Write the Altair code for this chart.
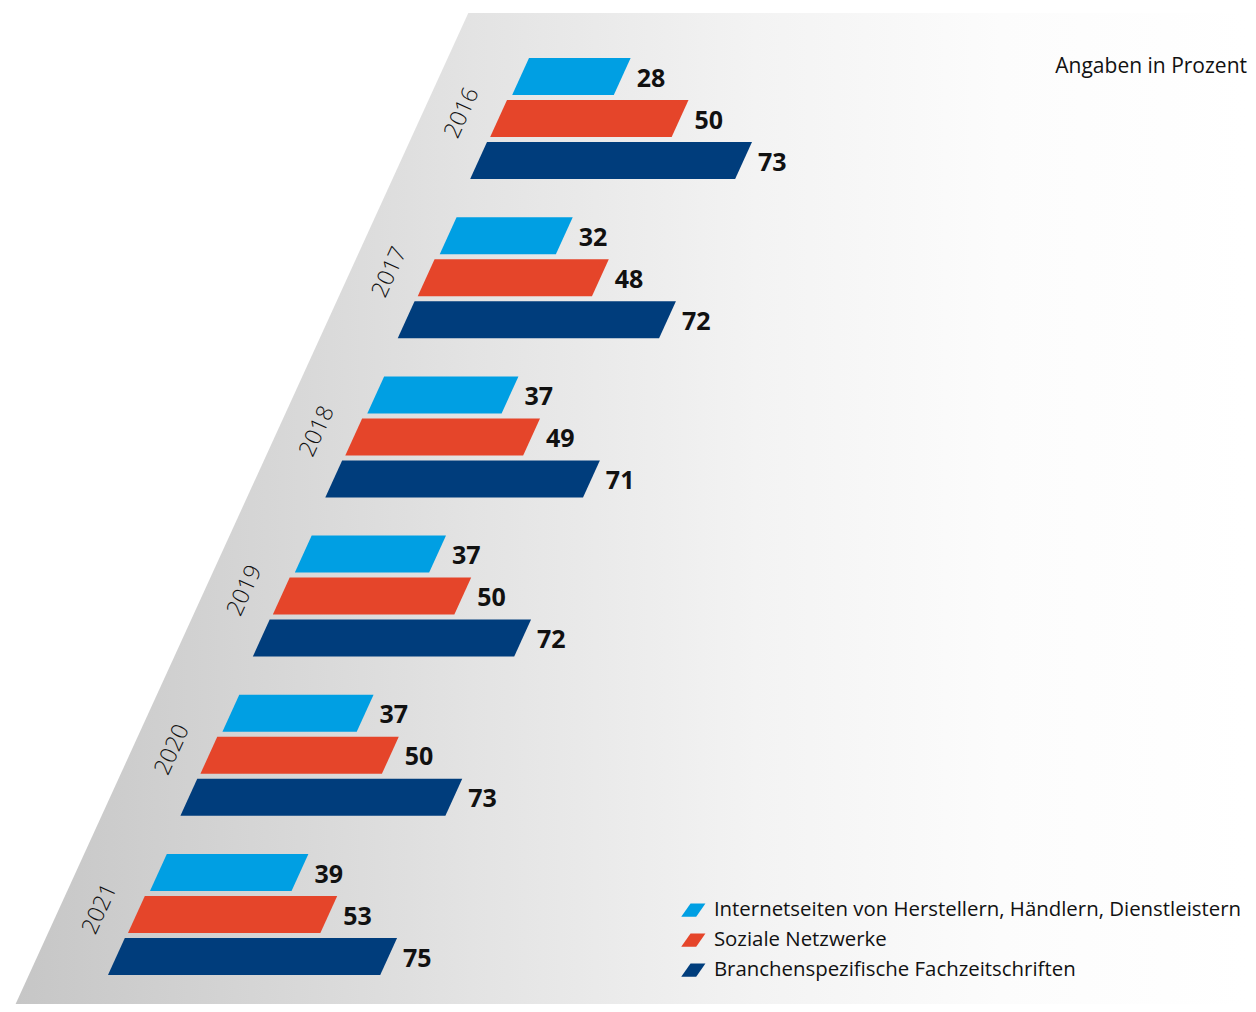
import altair as alt
import pandas as pd

# ---------------- data ----------------
years = ["2016", "2017", "2018", "2019", "2020", "2021"]
categories = [
    "Internetseiten von Herstellern, Händlern, Dienstleistern",
    "Soziale Netzwerke",
    "Branchenspezifische Fachzeitschriften",
]
internet = [28, 32, 37, 37, 37, 39]
social = [50, 48, 49, 50, 50, 53]
trade = [73, 72, 71, 72, 73, 75]
colors = ["#009FE3", "#E5452A", "#003D7C"]
note = "Angaben in Prozent"

# ---------------- layout constants (chart pixels) ----------------
W, H = 1240, 996
PX = 3.63                 # pixels per percentage point
SLANT = 0.455             # horizontal shift per vertical pixel
GROUP_TOP0 = 50
GROUP_STEP = 159.2
BAR_STEP = 42
BAR_H = 37
LEFT0 = 521
SHIFT = [0, -22, -42]
FONT = "Open Sans"

series = [internet, social, trade]

bar_rows, label_rows, year_rows = [], [], []
for i, yr in enumerate(years):
    g_top = GROUP_TOP0 + i * GROUP_STEP
    g_left = LEFT0 - SLANT * (i * GROUP_STEP)
    for j, cat in enumerate(categories):
        v = series[j][i]
        top = g_top + j * BAR_STEP
        lt = (g_left + SHIFT[j]) / PX
        lb = (g_left + SHIFT[j] - SLANT * BAR_H) / PX
        bid = f"{yr}-{j}"
        bar_rows.append(dict(bar=bid, cat=cat, y=top, x=lt, x2=lt + v))
        bar_rows.append(dict(bar=bid, cat=cat, y=top + BAR_H, x=lb, x2=lb + v))
        label_rows.append(dict(x=lt + v, y=top + 28.5, txt=str(v)))
    year_rows.append(dict(x=(g_left - 67) / PX, y=g_top + 55, txt=yr))

bars = pd.DataFrame(bar_rows)
labels = pd.DataFrame(label_rows)
yearlab = pd.DataFrame(year_rows)

BG_TOP, BG_LEFT_TOP, BG_SLANT = 5, 460.3, 0.4568
bg = pd.DataFrame([
    dict(y=BG_TOP, x=BG_LEFT_TOP / PX, x2=W / PX),
    dict(y=H, x=(BG_LEFT_TOP - BG_SLANT * (H - BG_TOP)) / PX, x2=W / PX),
])

xs = alt.Scale(domain=[0, W / PX], nice=False, zero=False)
ys = alt.Scale(domain=[0, H], nice=False, zero=False, reverse=True)

grad = alt.Gradient(
    gradient="linear",
    stops=[
        alt.GradientStop(color="#c6c6c6", offset=0),
        alt.GradientStop(color="#e3e3e3", offset=0.37),
        alt.GradientStop(color="#f3f3f3", offset=0.6),
        alt.GradientStop(color="#fcfcfc", offset=0.8),
        alt.GradientStop(color="#ffffff", offset=1),
    ],
    x1=0, x2=1, y1=0, y2=0,
)

background = alt.Chart(bg).mark_area(orient="horizontal", color=grad).encode(
    y=alt.Y("y:Q", scale=ys, axis=None),
    x=alt.X("x:Q", scale=xs, axis=None),
    x2="x2:Q",
)

swatch = "M -1.8 1 L -0.4 -1 L 1.84 -1 L 0.45 1 Z"

bar_layer = alt.Chart(bars).mark_area(orient="horizontal", opacity=1).encode(
    y=alt.Y("y:Q", scale=ys, axis=None),
    x=alt.X("x:Q", scale=xs, axis=None, stack=None),
    x2="x2:Q",
    detail="bar:N",
    color=alt.Color(
        "cat:N",
        scale=alt.Scale(domain=categories, range=colors),
        legend=alt.Legend(
            title=None,
            orient="none",
            legendX=675,
            legendY=892,
            direction="vertical",
            symbolType=swatch,
            symbolSize=177,
            symbolStrokeWidth=0,
            symbolOpacity=1,
            labelFont=FONT,
            labelFontSize=20.4,
            labelColor="#111111",
            labelOffset=10.5,
            labelLimit=800,
            rowPadding=9,
            padding=0,
        ),
    ),
)

value_text = alt.Chart(labels).mark_text(
    align="left", baseline="alphabetic", dx=6, font=FONT, fontSize=25,
    fontWeight="bold", color="#111111",
).encode(
    x=alt.X("x:Q", scale=xs, axis=None),
    y=alt.Y("y:Q", scale=ys, axis=None),
    text="txt:N",
)

year_text = alt.Chart(yearlab).mark_text(
    align="center", baseline="middle", angle=294.5, font=FONT, fontSize=23,
    fontWeight=300, color="#111111",
).encode(
    x=alt.X("x:Q", scale=xs, axis=None),
    y=alt.Y("y:Q", scale=ys, axis=None),
    text="txt:N",
)

note_text = alt.Chart(pd.DataFrame({"txt": [note]})).mark_text(
    align="right", baseline="alphabetic", font=FONT, fontSize=21,
    color="#111111",
).encode(
    x=alt.value(1239),
    y=alt.value(64.5),
    text="txt:N",
)

chart = alt.layer(background, bar_layer, value_text, year_text, note_text).properties(
    width=W, height=H, padding=0, autosize=alt.AutoSizeParams(type="none"),
    background="white",
).configure_view(stroke=None)

chart.save("out.html", embed_options={"renderer": "svg", "actions": False})
